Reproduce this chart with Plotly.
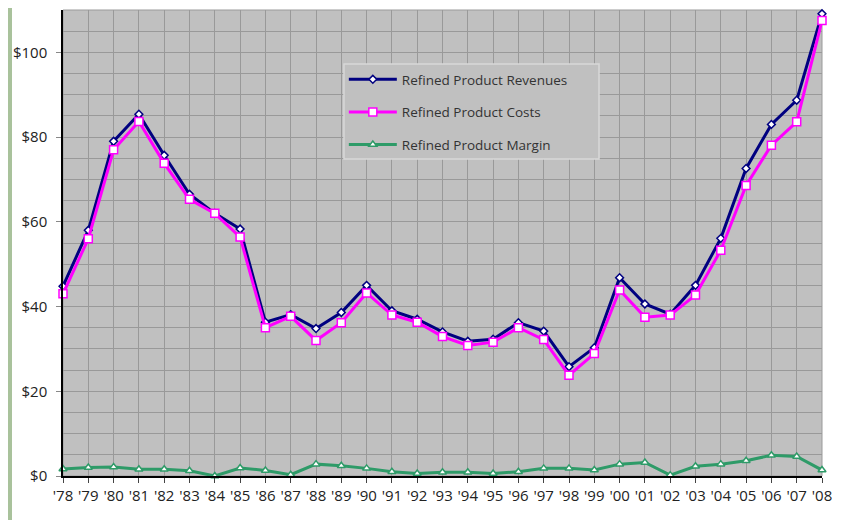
import plotly.graph_objects as go

years = ["'78", "'79", "'80", "'81", "'82", "'83", "'84", "'85", "'86", "'87",
         "'88", "'89", "'90", "'91", "'92", "'93", "'94", "'95", "'96", "'97",
         "'98", "'99", "'00", "'01", "'02", "'03", "'04", "'05", "'06", "'07", "'08"]

revenues = [44.8, 58.0, 79.0, 85.4, 75.7, 66.5, 62.0, 58.3, 36.3, 38.1,
            34.8, 38.6, 45.0, 39.0, 37.0, 34.0, 31.8, 32.3, 36.2, 34.2,
            25.8, 30.3, 46.8, 40.6, 38.2, 45.0, 56.1, 72.6, 83.0, 88.7, 109.1]

costs = [43.0, 56.0, 77.0, 83.7, 73.8, 65.3, 62.0, 56.4, 35.0, 37.7,
         32.0, 36.2, 43.2, 38.0, 36.3, 32.9, 30.8, 31.6, 35.0, 32.2,
         23.8, 28.9, 43.9, 37.5, 38.0, 42.7, 53.3, 68.6, 78.1, 83.6, 107.5]

margin = [1.65, 2.0, 2.1, 1.6, 1.6, 1.25, 0.0, 1.9, 1.3, 0.3,
          2.8, 2.4, 1.8, 1.0, 0.6, 0.9, 0.9, 0.6, 1.0, 1.8,
          1.8, 1.4, 2.8, 3.2, 0.2, 2.3, 2.8, 3.6, 4.9, 4.6, 1.4]

y_ticks = [0, 20, 40, 60, 80, 100]
y_labels = ["$0", "$20", "$40", "$60", "$80", "$100"]

x = list(range(len(years)))

fig = go.Figure()
fig.add_trace(go.Scatter(
    x=x, y=revenues, name="Refined Product Revenues", mode="lines+markers",
    line=dict(color="#000080", width=3),
    marker=dict(symbol="diamond", size=6, color="white", line=dict(color="#000080", width=1.5)),
    legendgroup="a", cliponaxis=False))
fig.add_trace(go.Scatter(
    x=x, y=costs, name="Refined Product Costs", mode="lines+markers",
    line=dict(color="#ff00ff", width=3),
    marker=dict(symbol="square", size=8, color="white", line=dict(color="#ff00ff", width=1.5)),
    legendgroup="b", cliponaxis=False))
fig.add_trace(go.Scatter(
    x=x, y=margin, name="Refined Product Margin", mode="lines+markers",
    line=dict(color="#2e9b68", width=3),
    marker=dict(symbol="triangle-up", size=7, color="white", line=dict(color="#2e9b68", width=1.5)),
    legendgroup="c", cliponaxis=False))

# grey frame around plot area + green strip at far left
fig.add_shape(type="rect", xref="paper", yref="paper", x0=0, x1=1, y0=0, y1=1,
              line=dict(color="#9a9a9a", width=1), layer="below")
fig.add_shape(type="rect", xref="paper", yref="paper", x0=-0.0725, x1=-0.0672, y0=-0.12, y1=1.01,
              line=dict(width=0), fillcolor="#a9c29c", layer="below")
# legend box (wider than plotly's own)
fig.add_shape(type="rect", xref="paper", yref="paper", x0=0.3702, x1=0.7062, y0=0.680, y1=0.884,
              line=dict(color="#d8d8d8", width=1.5), fillcolor="#c0c0c0", layer="above")

fig.update_layout(
    width=850, height=520,
    margin=dict(l=55, r=36, t=2, b=52),
    paper_bgcolor="white", plot_bgcolor="#c0c0c0",
    font=dict(family="Open Sans, sans-serif", size=15, color="#222"),
    showlegend=True,
    legend=dict(x=0.370, y=0.884, xanchor="left", yanchor="top",
                bgcolor="rgba(0,0,0,0)", borderwidth=0,
                font=dict(size=13.5, color="#333"), tracegroupgap=12,
                itemwidth=48),
    xaxis=dict(range=[0, 30], tickvals=x, ticktext=years, showgrid=True,
               gridcolor="#999999", gridwidth=1, showline=True, linecolor="black",
               linewidth=1.5, ticks="outside", ticklen=5, tickcolor="#444",
               zeroline=False, tickfont=dict(size=15), automargin=False),
    yaxis=dict(range=[0, 110], tickvals=y_ticks, ticktext=y_labels,
               showgrid=True, gridcolor="#999999", gridwidth=1, showline=True,
               linecolor="black", linewidth=1.5, ticks="outside", ticklen=5,
               tickcolor="#888", zeroline=False, tickfont=dict(size=15), automargin=False,
               ticklabelstandoff=6,
               minor=dict(dtick=5, showgrid=True, gridcolor="#999999", gridwidth=1)),
)

fig.write_html("out.html")
